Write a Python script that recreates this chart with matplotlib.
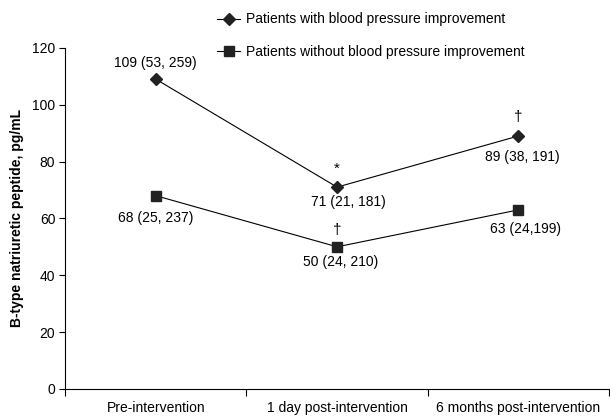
import matplotlib
matplotlib.use("Agg")
import matplotlib.pyplot as plt
from matplotlib.lines import Line2D

plt.rcParams['font.family'] = ['Liberation Sans', 'DejaVu Sans']

# data
timepoints = ['Pre-intervention', '1 day post-intervention', '6 months post-intervention']
with_bp = [109, 71, 89]
without_bp = [68, 50, 63]
with_labels = ['109 (53, 259)', '71 (21, 181)', '89 (38, 191)']
without_labels = ['68 (25, 237)', '50 (24, 210)', '63 (24,199)']
with_marks = ['', '*', '\u2020']
without_marks = ['', '\u2020', '']

fig = plt.figure(figsize=(6.10, 4.16), dpi=100)
ax = fig.add_axes([0.1066, 0.065, 0.892, 0.82])

x = [0.5, 1.5, 2.5]
ax.plot(x, with_bp, color='black', lw=0.8, marker='D', ms=6, mfc='#222222', mec='#222222')
ax.plot(x, without_bp, color='black', lw=0.8, marker='s', ms=7, mfc='#222222', mec='#222222')

# value labels
lab_off_with = [(0, 5.7), (0.06, -5.2), (0.02, -7.4)]
lab_off_without = [(0, -7.8), (0.02, -5.3), (0.04, -6.7)]
for i in range(3):
    dx, dy = lab_off_with[i]
    ax.text(x[i] + dx, with_bp[i] + dy, with_labels[i], ha='center', va='center', fontsize=10)
    dx, dy = lab_off_without[i]
    ax.text(x[i] + dx, without_bp[i] + dy, without_labels[i], ha='center', va='center', fontsize=10)
    if with_marks[i]:
        ax.text(x[i], with_bp[i] + 6.5, with_marks[i], ha='center', va='center', fontsize=11)
    if without_marks[i]:
        ax.text(x[i], without_bp[i] + 6, without_marks[i], ha='center', va='center', fontsize=11)

ax.set_xlim(0, 3)
ax.set_ylim(0, 120)
ax.set_yticks(range(0, 121, 20))
ax.set_xticks([0, 1, 2, 3])
ax.set_xticklabels([])
ax.set_xticks(x, minor=True)
ax.set_xticklabels(timepoints, minor=True)
ax.tick_params(axis='x', which='minor', length=0, pad=9, labelsize=10)
ax.tick_params(axis='x', which='major', length=5, direction='out')
ax.tick_params(axis='y', length=4, direction='out', labelsize=10, pad=3)
ax.spines['top'].set_visible(False)
ax.spines['right'].set_visible(False)
ax.set_ylabel('B-type natriuretic peptide, pg/mL', fontsize=10, fontweight='bold')
ax.yaxis.set_label_coords(-0.075, 0.5)

handles = [
    Line2D([], [], color='black', lw=0.8, marker='D', ms=6, mfc='#222222', mec='#222222'),
    Line2D([], [], color='black', lw=0.8, marker='s', ms=7, mfc='#222222', mec='#222222'),
]
fig.legend(handles, ['Patients with blood pressure improvement',
                     'Patients without blood pressure improvement'],
           loc='upper left', bbox_to_anchor=(0.335, 1.0), frameon=False,
           fontsize=10, handlelength=1.7, handletextpad=0.43, labelspacing=1.3)

fig.savefig('out.png', dpi=100)
